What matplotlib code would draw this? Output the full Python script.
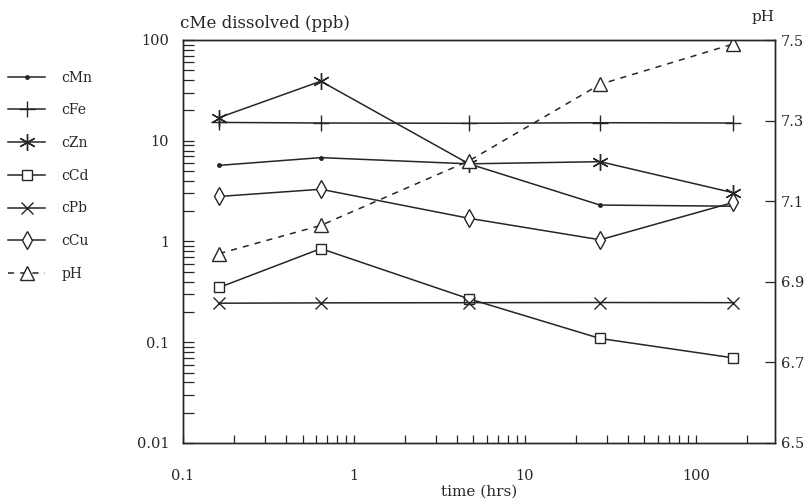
import matplotlib
matplotlib.use('Agg')
import matplotlib.pyplot as plt
from matplotlib.ticker import FixedLocator, FixedFormatter, LogLocator, NullFormatter

plt.rcParams['font.family'] = ['DejaVu Serif']
plt.rcParams['font.size'] = 10

# sampling times (hrs)
time = [0.163, 0.64, 4.7, 27.5, 165]

# dissolved metals (ppb)
cMn = [5.7, 6.8, 5.9, 2.3, 2.24]
cFe = [15.2, 15.0, 14.9, 15.1, 15.0]
cZn = [17.0, 39.0, 5.9, 6.2, 3.05]
cCd = [0.35, 0.85, 0.27, 0.109, 0.070]
cPb = [0.244, 0.246, 0.247, 0.248, 0.247]
cCu = [2.8, 3.3, 1.70, 1.04, 2.44]

# pH, right axis
pH = [6.97, 7.04, 7.20, 7.39, 7.49]

ink = '#262626'

fig = plt.figure(figsize=(8.11, 5.04), dpi=100)
ax = fig.add_axes([183/811, 1-443/504, (775-183)/811, (443-40)/504])

kw = dict(color=ink, lw=1.1, mfc='white', mec=ink)
l1, = ax.plot(time, cMn, marker='o', ms=2.5, mfc=ink, label='cMn', color=ink, lw=1.1, mec=ink)
l2, = ax.plot(time, cFe, marker='+', ms=12, mew=1.0, label='cFe', **kw)
l3, = ax.plot(time, cZn, marker=(6, 2, 0), ms=12, mew=1.0, label='cZn', **kw)
l4, = ax.plot(time, cCd, marker='s', ms=7.5, mew=1.0, label='cCd', **kw)
l5, = ax.plot(time, cPb, marker='x', ms=8, mew=1.0, label='cPb', **kw)
l6, = ax.plot(time, cCu, marker='d', ms=9, mew=1.0, label='cCu', **kw)

ax.set_xscale('log')
ax.set_yscale('log')
ax.set_xlim(0.1, 290)
ax.set_ylim(0.01, 100)

ax.xaxis.set_major_locator(FixedLocator([0.1, 1, 10, 100]))
ax.xaxis.set_major_formatter(FixedFormatter(['0.1', '1', '10', '100']))
ax.xaxis.set_minor_locator(LogLocator(base=10, subs=range(2, 10)))
ax.xaxis.set_minor_formatter(NullFormatter())
ax.yaxis.set_major_locator(FixedLocator([0.01, 0.1, 1, 10, 100]))
ax.yaxis.set_major_formatter(FixedFormatter(['0.01', '0.1', '1', '10', '100']))
ax.yaxis.set_minor_locator(LogLocator(base=10, subs=range(2, 10)))
ax.yaxis.set_minor_formatter(NullFormatter())

ax.tick_params(axis='both', which='both', direction='in', colors=ink, width=0.9, labelsize=10.5)
ax.tick_params(axis='x', which='both', length=6, pad=19)
ax.tick_params(axis='y', which='both', length=8, pad=10)

ax2 = ax.twinx()
l7, = ax2.plot(time, pH, ls=(0, (4, 4)), marker='^', ms=10, mew=1.0, label='pH', **kw)
ax2.set_ylim(6.5, 7.5)
ax2.set_yticks([6.5, 6.7, 6.9, 7.1, 7.3, 7.5])
ax2.set_yticklabels(['6.5', '6.7', '6.9', '7.1', '7.3', '7.5'])
ax2.tick_params(axis='y', direction='in', length=7, pad=4, colors=ink, width=0.9, labelsize=10.5)

for a in (ax, ax2):
    for s in a.spines.values():
        s.set_color(ink)
        s.set_linewidth(1.0)

fig.text(180/811, 1-24/504, 'cMe dissolved (ppb)', ha='left', va='center', color=ink, size=12)
fig.text(763/811, 1-17/504, 'pH', ha='center', va='center', color=ink, size=11)
ax.set_xlabel('time (hrs)', color=ink, size=11, labelpad=1)

handles = [l1, l2, l3, l4, l5, l6, l7]
fig.legend(handles, [h.get_label() for h in handles], loc='upper left',
           bbox_to_anchor=(-0.005, 1-58/504), frameon=False, handlelength=2.6,
           handletextpad=1.2, labelspacing=1.35, numpoints=1, labelcolor=ink)

plt.savefig('out.png', dpi=100)
